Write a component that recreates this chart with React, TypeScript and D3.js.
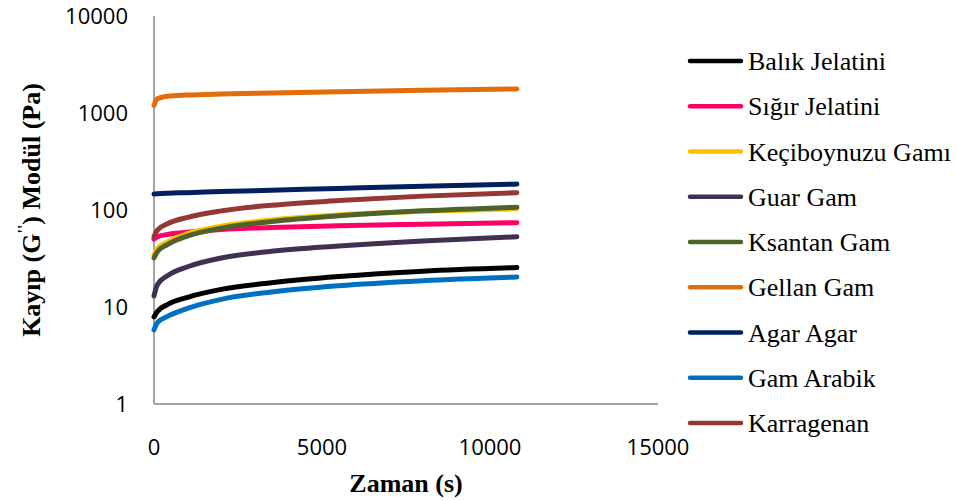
import * as d3 from "d3";

const W = 957;
const H = 501;

const times = [0, 100, 400, 1000, 2000, 3500, 5500, 8000, 10800];

const seriesNames = [
  "Balık Jelatini",
  "Sığır Jelatini",
  "Keçiboynuzu Gamı",
  "Guar Gam",
  "Ksantan Gam",
  "Gellan Gam",
  "Agar Agar",
  "Gam Arabik",
  "Karragenan",
];

const seriesColors = [
  "#000000",
  "#FF0066",
  "#FFC000",
  "#403151",
  "#4F6228",
  "#E46C0A",
  "#002060",
  "#0070C0",
  "#953735",
];

const balik = [7.9, 9.0, 10.6, 12.6, 15.2, 17.8, 20.6, 23.4, 25.5];
const sigir = [50, 53, 56, 59, 63, 66, 69, 71.5, 74];
const keciboynuzu = [34, 40, 47, 57, 68, 79, 89, 97, 103];
const guar = [13, 17, 21, 26, 32, 37.5, 42.5, 48, 53];
const ksantan = [32, 37, 44, 54, 65, 76, 87, 98, 107];
const gellan = [1200, 1400, 1490, 1530, 1570, 1610, 1660, 1720, 1770];
const agar = [146, 147, 149, 151, 155, 160, 167, 176, 185];
const arabik = [5.8, 6.9, 8.0, 9.7, 12.0, 14.3, 16.6, 18.7, 20.4];
const karragenan = [53, 62, 72, 84, 98, 112, 125, 139, 151];

const seriesValues = [balik, sigir, keciboynuzu, guar, ksantan, gellan, agar, arabik, karragenan];

const xTicks = [0, 5000, 10000, 15000];
const yTicks = [1, 10, 100, 1000, 10000];

export default function App() {
  const plot = { left: 154, right: 658, top: 16, bottom: 404 };

  const x = d3.scaleLinear().domain([0, 15000]).range([plot.left, plot.right]);
  const y = d3.scaleLog().domain([1, 10000]).range([plot.bottom, plot.top]);

  const line = d3
    .line<[number, number]>()
    .x(d => x(d[0]))
    .y(d => y(d[1]))
    .curve(d3.curveMonotoneX);

  const legendX = 688;
  const legendY0 = 61;
  const legendStep = 45.25;

  return (
    <svg
      width={W}
      height={H}
      style={{ position: "absolute", left: 0, top: 0, background: "#fff" }}
    >
      <rect width={W} height={H} fill="#fff" />

      {/* axes */}
      <line x1={plot.left} x2={plot.left} y1={plot.top} y2={plot.bottom} stroke="#868686" strokeWidth={1.5} />
      <line x1={plot.left} x2={plot.right} y1={plot.bottom} y2={plot.bottom} stroke="#868686" strokeWidth={1.5} />

      {yTicks.map(t => (
        <text
          key={t}
          x={128}
          y={y(t)}
          dy="0.36em"
          textAnchor="end"
          fontFamily="'Open Sans', sans-serif"
          fontSize={22}
          fill="#000"
        >
          {t}
        </text>
      ))}

      {xTicks.map(t => (
        <text
          key={t}
          x={x(t)}
          y={455}
          textAnchor="middle"
          fontFamily="'Open Sans', sans-serif"
          fontSize={22}
          fill="#000"
        >
          {t}
        </text>
      ))}

      <text
        x={406}
        y={492}
        textAnchor="middle"
        fontFamily="'Liberation Serif', serif"
        fontWeight="bold"
        fontSize={26}
      >
        Zaman (s)
      </text>

      <text
        transform={`translate(40,${(plot.top + plot.bottom) / 2}) rotate(-90)`}
        textAnchor="middle"
        fontFamily="'Liberation Serif', serif"
        fontWeight="bold"
        fontSize={26}
      >
        Kayıp (G
        <tspan fontSize={16} dy={-11}>''</tspan>
        <tspan dy={11}>) Modül (Pa)</tspan>
      </text>

      {/* series */}
      {seriesValues.map((vals, i) => (
        <path
          key={seriesNames[i]}
          d={line(times.map((t, j) => [t, vals[j]] as [number, number])) ?? ""}
          fill="none"
          stroke={seriesColors[i]}
          strokeWidth={5}
          strokeLinecap="round"
          strokeLinejoin="round"
        />
      ))}

      {/* legend */}
      {seriesNames.map((name, i) => {
        const ly = legendY0 + i * legendStep;
        return (
          <g key={name}>
            <line
              x1={legendX + 2}
              x2={legendX + 53}
              y1={ly}
              y2={ly}
              stroke={seriesColors[i]}
              strokeWidth={4.5}
              strokeLinecap="round"
            />
            <text
              x={legendX + 60}
              y={ly + 9}
              fontFamily="'Liberation Serif', serif"
              fontSize={26}
              fill="#000"
            >
              {name}
            </text>
          </g>
        );
      })}
    </svg>
  );
}
